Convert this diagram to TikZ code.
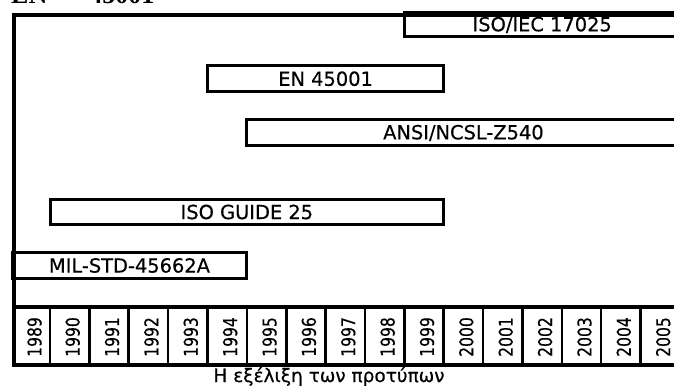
\documentclass[tikz,border=0pt]{standalone}
\usepackage{fontspec}
\setmainfont{DejaVu Sans}[FakeBold=0.4]
\newfontfamily\yearfont{DejaVu Sans}[FakeStretch=0.82,FakeBold=0.4]
\newfontfamily\topserif{Liberation Serif}
\begin{document}
\begin{tikzpicture}[x=1pt,y=-1pt,
  framebox/.style={draw=black,line width=4pt},
  bar/.style={draw=black,line width=3pt,fill=white,inner sep=0pt,
    font=\fontsize{19.4}{22}\selectfont},
  yearsep/.style={draw=black,line width=2.6pt},
  yearlabel/.style={rotate=90,anchor=west,inner sep=0pt,
    font=\yearfont\fontsize{19}{21}\selectfont},
  caption/.style={anchor=base,inner sep=0pt,font=\fontsize{18.5}{21}\selectfont},
  toplabel/.style={anchor=base west,inner sep=0pt,
    font=\topserif\bfseries\fontsize{26}{28}\selectfont}]
\useasboundingbox (0,0) rectangle (674,387);
\fill[white] (0,0) rectangle (674,387);
% clipped title at top
\node[toplabel] (title) at (11,4) {EN\hspace{42pt}45001};
% year row
\coordinate (rowL) at (12,306.5);
\coordinate (rowR) at (680,306.5);
\draw[framebox] (rowL) -- (rowR);
\foreach \k in {0,...,15}{
  \pgfmathsetmacro{\bx}{50+39.37*\k}
  \coordinate (sT\k) at (\bx,306.5);
  \coordinate (sB\k) at (\bx,363);
  \draw[yearsep] (sT\k) -- (sB\k);
}
\node[yearlabel] (y1989) at (34.5,357) {1989};
\foreach \k in {1,...,16}{
  \pgfmathsetmacro{\cx}{50+39.37*(\k-1)+19.685+3}
  \pgfmathtruncatemacro{\yr}{1989+\k}
  \node[yearlabel] (y\yr) at (\cx,357) {\yr};
}
% bars
\node[bar,minimum width=234.9pt,minimum height=26pt] (mil) at (129.45,265.5) {MIL-STD-45662A};
\node[bar,minimum width=393.7pt,minimum height=25.5pt] (isoguide) at (246.85,212) {ISO GUIDE 25};
\node[bar,minimum width=433.1pt,minimum height=26pt] (ansi) at (463.45,133) {ANSI/NCSL-Z540};
\node[bar,minimum width=236.2pt,minimum height=26.5pt] (en) at (325.6,78.75) {EN 45001};
\node[bar,minimum width=275.7pt,minimum height=24pt] (iso17025) at (542.2,25) {ISO/IEC 17025};
% outer frame
\node[framebox,inner sep=0pt,minimum width=668pt,minimum height=350pt,anchor=north west] (frame) at (12,13) {};
% caption
\node[caption] (cap) at (329,382) {Η εξέλιξη των προτύπων};
\end{tikzpicture}
\end{document}
